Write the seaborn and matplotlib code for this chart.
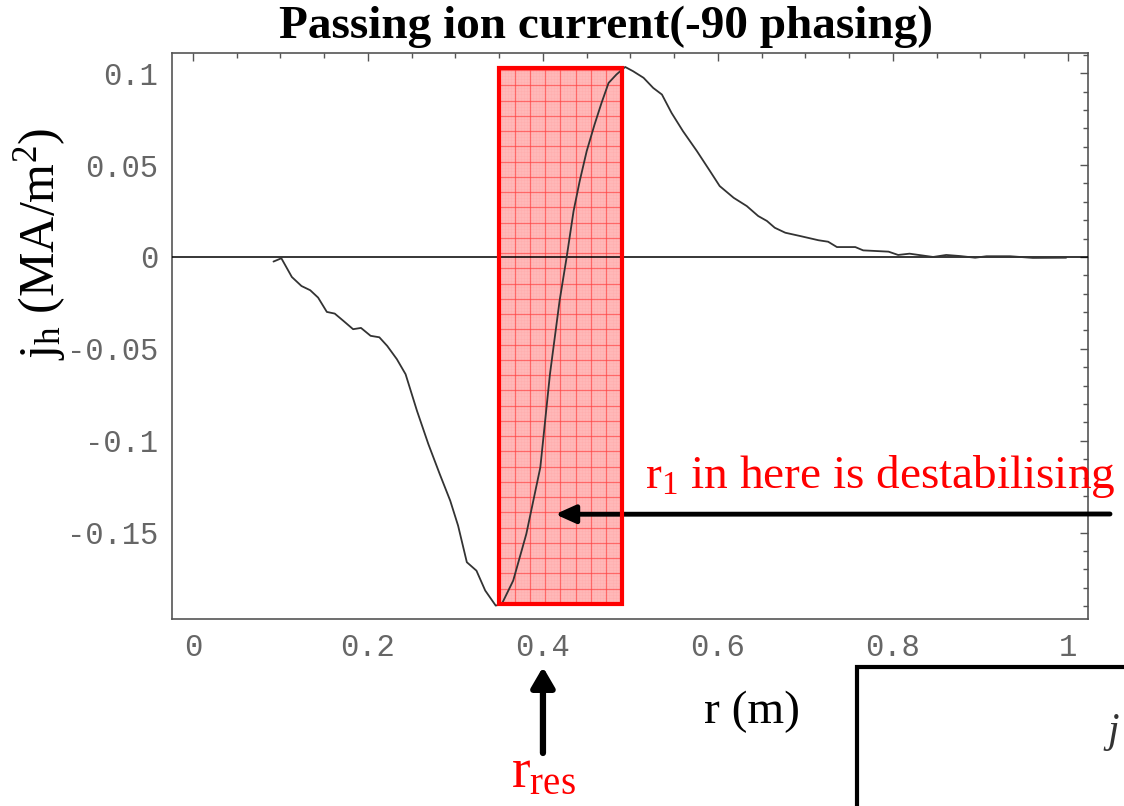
import numpy as np
import pandas as pd
import seaborn as sns
from matplotlib import pyplot as plt
from matplotlib.patches import Rectangle
from matplotlib.ticker import MultipleLocator
from matplotlib.transforms import blended_transform_factory

# passing ion current profile
r_m = [0.092, 0.101, 0.113, 0.124, 0.134, 0.143, 0.153, 0.162, 0.172, 0.183,
       0.192, 0.203, 0.213, 0.222, 0.233, 0.243, 0.256, 0.269, 0.282, 0.294,
       0.303, 0.313, 0.324, 0.334, 0.346, 0.353, 0.366, 0.381, 0.397, 0.408,
       0.419, 0.427, 0.435, 0.442, 0.450, 0.459, 0.467, 0.475, 0.484, 0.494,
       0.503, 0.515, 0.526, 0.536, 0.547, 0.560, 0.576, 0.591, 0.602, 0.618,
       0.633, 0.646, 0.656, 0.665, 0.677, 0.694, 0.715, 0.726, 0.736, 0.757,
       0.766, 0.795, 0.806, 0.819, 0.846, 0.861, 0.877, 0.894, 0.907, 0.934,
       0.960, 0.998]
j_h = [-0.0025, -0.0007, -0.0109, -0.0158, -0.0181, -0.0221, -0.0299, -0.0308, -0.0348, -0.0393,
       -0.0386, -0.0429, -0.0437, -0.0484, -0.0556, -0.0638, -0.0837, -0.1018, -0.1181, -0.1326,
       -0.1462, -0.1661, -0.1707, -0.1815, -0.1897, -0.1888, -0.1761, -0.1507, -0.1145, -0.0638,
       -0.0239, -0.0004, 0.0250, 0.0413, 0.0576, 0.0721, 0.0839, 0.0947, 0.0993, 0.1034,
       0.1011, 0.0975, 0.0920, 0.0884, 0.0784, 0.0685, 0.0576, 0.0467, 0.0386, 0.0322,
       0.0277, 0.0223, 0.0196, 0.0159, 0.0132, 0.0114, 0.0091, 0.0083, 0.0054, 0.0054,
       0.0036, 0.0029, 0.0011, 0.0018, 0.0000, 0.0011, 0.0005, -0.0004, 0.0004, 0.0004,
       -0.0005, -0.0004]

xticks = [0, 0.2, 0.4, 0.6, 0.8, 1]
xtick_labels = ['0', '0.2', '0.4', '0.6', '0.8', '1']
yticks = [-0.15, -0.1, -0.05, 0, 0.05, 0.1]
ytick_labels = ['-0.15', '-0.1', '-0.05', '0', '0.05', '0.1']

# destabilising zone (min to max of the current) and resonance position
zone_r = [0.35, 0.49]
zone_j = [-0.1888, 0.1027]
r_res = 0.4
arrow_target = (0.414, -0.140)

sns.set_theme(style='white')
plt.rcParams['font.family'] = ['Liberation Serif', 'DejaVu Serif']
plt.rcParams['mathtext.fontset'] = 'custom'
plt.rcParams['mathtext.rm'] = 'Liberation Serif'
plt.rcParams['mathtext.it'] = 'Liberation Serif:italic'

W, H = 1124, 806
fig = plt.figure(figsize=(W / 100, H / 100), dpi=100, facecolor='white')
ax = fig.add_axes([172 / W, 1 - 619 / H, (1088 - 172) / W, (619 - 53) / H])
ax.set_facecolor('white')

data = pd.DataFrame({'r': r_m, 'j': j_h})
sns.lineplot(data=data, x='r', y='j', ax=ax, color='#333333', lw=1.3,
             sort=False, estimator=None, zorder=4)
ax.axhline(0, color='black', lw=1.1, zorder=3)

# pink graph-paper box
ax.add_patch(Rectangle((zone_r[0], zone_j[0]), zone_r[1] - zone_r[0], zone_j[1] - zone_j[0],
                       facecolor='#ffb8b8', edgecolor='none', zorder=1))
for x in np.arange(zone_r[0], zone_r[1], 0.0035):
    ax.plot([x, x], zone_j, color='#ff9090', lw=0.4, alpha=0.2, zorder=1.5)
for y in np.arange(zone_j[0], zone_j[1], 0.00166):
    ax.plot(zone_r, [y, y], color='#ff9090', lw=0.4, alpha=0.2, zorder=1.5)
for x in np.arange(zone_r[0], zone_r[1], 0.0175):
    ax.plot([x, x], zone_j, color='#ff4040', lw=0.9, alpha=0.65, zorder=2)
for y in np.arange(zone_j[0], zone_j[1], 0.0083):
    ax.plot(zone_r, [y, y], color='#ff4040', lw=0.9, alpha=0.65, zorder=2)
ax.add_patch(Rectangle((zone_r[0], zone_j[0]), zone_r[1] - zone_r[0], zone_j[1] - zone_j[0],
                       facecolor='none', edgecolor='red', lw=3, zorder=5))

ax.set_xlim(-0.024, 1.023)
ax.set_ylim(-0.197, 0.111)
ax.set_xlabel('')
ax.set_ylabel('')
ax.set_xticks(xticks)
ax.set_xticklabels(xtick_labels, family='Liberation Mono')
ax.set_yticks(yticks)
ax.set_yticklabels(ytick_labels, family='Liberation Mono')
ax.xaxis.set_minor_locator(MultipleLocator(0.05))
ax.yaxis.set_minor_locator(MultipleLocator(0.01))
ax.tick_params(which='both', direction='in', top=True, right=True, color='#555555', width=1)
ax.tick_params(which='major', length=6, labelsize=22, labelcolor='#666666', pad=10)
ax.tick_params(which='minor', length=3.5)
for s in ax.spines.values():
    s.set_color('#555555')
    s.set_linewidth(1.2)

fig.text(606 / W, 1 - 27 / H, 'Passing ion current(-90 phasing)', weight='bold',
         size=34, ha='center', va='center', color='black')
fig.text(40 / W, 1 - 244 / H, r'$\mathrm{j_h}$ (MA/m$^2$)', rotation=90, size=36,
         ha='center', va='center', color='black')
fig.text(752 / W, 1 - 712 / H, 'r (m)', size=34, ha='center', va='center', color='black')

fig.text(645 / W, 1 - 488 / H, r'r$_1$ in here is destabilising', color='red', size=34,
         ha='left', va='baseline')
ax.annotate('', xy=arrow_target, xycoords='data',
            xytext=(1110 / W, 1 - 514 / H), textcoords='figure fraction',
            arrowprops=dict(arrowstyle='-|>,head_length=0.6,head_width=0.27',
                            mutation_scale=20, color='black', lw=3.5,
                            shrinkA=0, shrinkB=0),
            annotation_clip=False)

mixed = blended_transform_factory(ax.transData, fig.transFigure)
ax.annotate('', xy=(r_res, 1 - 667 / H), xycoords=mixed,
            xytext=(r_res, 1 - 753 / H), textcoords=mixed,
            arrowprops=dict(arrowstyle='-|>,head_length=0.6,head_width=0.35',
                            mutation_scale=20, color='black', lw=4.5,
                            shrinkA=0, shrinkB=0),
            annotation_clip=False)
ax.text(r_res, 1 - 787 / H, r'r$_\mathrm{res}$', transform=mixed, color='red', size=40,
        ha='center', va='baseline', clip_on=False)

# edge of the next panel, bottom right
fig.add_artist(Rectangle((857 / W, -0.05), 0.3, (1 - 667 / H) + 0.05,
                         transform=fig.transFigure, fill=False, ec='black', lw=3))
fig.text(1113 / W, 1 - 732 / H, 'j', style='italic', size=30, color='#333333',
         ha='center', va='center')

fig.savefig('out.png', dpi=100, facecolor='white')
